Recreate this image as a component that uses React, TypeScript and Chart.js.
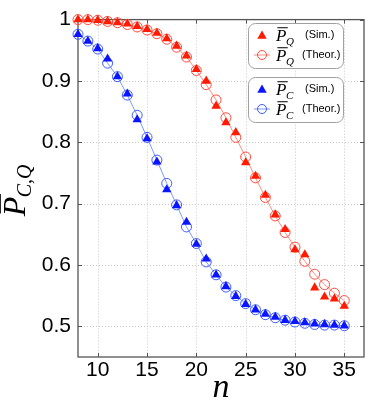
import React, { useEffect, useRef } from 'react';
import { Chart, registerables } from 'chart.js';

Chart.register(...registerables);

const nValues = [8, 9, 10, 11, 12, 13, 14, 15, 16, 17, 18, 19, 20, 21, 22, 23, 24, 25, 26, 27, 28, 29, 30, 31, 32, 33, 34, 35];

const pQSim = [1.0, 1.0, 0.999, 0.997, 0.995, 0.993, 0.989, 0.984, 0.978, 0.969, 0.957, 0.941, 0.919, 0.900, 0.859, 0.832, 0.816, 0.767, 0.745, 0.714, 0.682, 0.658, 0.625, 0.617, 0.563, 0.548, 0.545, 0.533];
const pQTheor = [1.0, 1.0, 0.999, 0.997, 0.995, 0.992, 0.988, 0.983, 0.977, 0.968, 0.955, 0.939, 0.917, 0.894, 0.869, 0.840, 0.808, 0.776, 0.742, 0.710, 0.680, 0.653, 0.629, 0.606, 0.585, 0.568, 0.554, 0.542];
const pCSim = [0.976, 0.965, 0.953, 0.936, 0.907, 0.879, 0.837, 0.806, 0.768, 0.723, 0.697, 0.670, 0.634, 0.610, 0.584, 0.565, 0.549, 0.536, 0.527, 0.520, 0.515, 0.510, 0.508, 0.506, 0.504, 0.503, 0.502, 0.501];
const pCTheor = [0.976, 0.965, 0.952, 0.929, 0.907, 0.877, 0.844, 0.808, 0.771, 0.733, 0.698, 0.662, 0.635, 0.605, 0.584, 0.564, 0.550, 0.537, 0.527, 0.519, 0.514, 0.510, 0.507, 0.505, 0.503, 0.502, 0.502, 0.501];

const xTicks = [10, 15, 20, 25, 30, 35];
const yTicks = [0.5, 0.6, 0.7, 0.8, 0.9, 1.0];

const RED_SIM = '#ff1a00';
const RED_THEOR = '#ff4a3c';
const RED_LINE = '#ff8c80';
const BLUE_SIM = '#0a14ff';
const BLUE_THEOR = '#3d5cff';
const BLUE_LINE = '#7d98ff';

const SANS = '"Liberation Sans", Arial, Helvetica, sans-serif';
const SERIF = '"Liberation Serif", "Times New Roman", serif';

function toPts(ys: number[]) {
  return nValues.map((n, i) => ({ x: n, y: ys[i] }));
}

function drawPBar(ctx: CanvasRenderingContext2D, x: number, y: number, size: number, sub: string, subSize: number, subDrop: number) {
  ctx.font = `italic ${size}px ${SERIF}`;
  ctx.textAlign = 'left';
  ctx.textBaseline = 'alphabetic';
  ctx.fillText('P', x, y);
  const w = ctx.measureText('P').width;
  const barY = y - size * 0.78;
  ctx.beginPath();
  ctx.lineWidth = Math.max(1, size / 20);
  ctx.moveTo(x + size * 0.08, barY);
  ctx.lineTo(x + w + size * 0.08, barY);
  ctx.stroke();
  ctx.font = `italic ${subSize}px ${SERIF}`;
  ctx.fillText(sub, x + w - size * 0.02, y + subDrop);
  return w + ctx.measureText(sub).width;
}

function triangle(ctx: CanvasRenderingContext2D, cx: number, cy: number, r: number, color: string) {
  ctx.beginPath();
  for (let k = 0; k < 3; k++) {
    const a = (k * 2 * Math.PI) / 3;
    const px = cx + Math.sin(a) * r;
    const py = cy - Math.cos(a) * r;
    if (k === 0) ctx.moveTo(px, py); else ctx.lineTo(px, py);
  }
  ctx.closePath();
  ctx.fillStyle = color;
  ctx.fill();
}

const decor = {
  id: 'decor',
  beforeDatasetsDraw(chart: any) {
    const { ctx, chartArea: a, scales } = chart;
    const xs = scales.x;
    const ys = scales.y;
    ctx.save();
    ctx.strokeStyle = '#c8c8c8';
    ctx.lineWidth = 1;
    ctx.setLineDash([1, 2]);
    xTicks.forEach((v) => {
      const px = Math.round(xs.getPixelForValue(v)) + 0.5;
      ctx.beginPath();
      ctx.moveTo(px, a.top);
      ctx.lineTo(px, a.bottom);
      ctx.stroke();
    });
    yTicks.forEach((v) => {
      if (v >= 1) return;
      const py = Math.round(ys.getPixelForValue(v)) + 0.5;
      ctx.beginPath();
      ctx.moveTo(a.left, py);
      ctx.lineTo(a.right, py);
      ctx.stroke();
    });
    ctx.setLineDash([]);
    // tick marks (inward)
    ctx.strokeStyle = '#555';
    ctx.lineWidth = 1;
    xTicks.forEach((v) => {
      const px = Math.round(xs.getPixelForValue(v)) + 0.5;
      ctx.beginPath();
      ctx.moveTo(px, a.bottom);
      ctx.lineTo(px, a.bottom - 4);
      ctx.moveTo(px, a.top);
      ctx.lineTo(px, a.top + 4);
      ctx.stroke();
    });
    yTicks.forEach((v) => {
      const py = Math.round(ys.getPixelForValue(v)) + 0.5;
      ctx.beginPath();
      ctx.moveTo(a.left, py);
      ctx.lineTo(a.left + 4, py);
      ctx.moveTo(a.right, py);
      ctx.lineTo(a.right - 4, py);
      ctx.stroke();
    });
    // frame
    ctx.strokeStyle = '#555';
    ctx.lineWidth = 1.3;
    ctx.strokeRect(a.left, a.top, a.right - a.left, a.bottom - a.top);
    ctx.restore();
  },
  afterDraw(chart: any) {
    const { ctx, chartArea: a } = chart;
    ctx.save();
    ctx.fillStyle = '#000';
    ctx.strokeStyle = '#000';

    // x title
    ctx.font = `italic 34px ${SERIF}`;
    ctx.textAlign = 'center';
    ctx.textBaseline = 'alphabetic';
    ctx.fillText('n', (a.left + a.right) / 2, 397);

    // y title (rotated)
    ctx.save();
    ctx.font = `italic 32px ${SERIF}`;
    const pw = ctx.measureText('P').width;
    ctx.font = `italic 20px ${SERIF}`;
    const sw = ctx.measureText('C,Q').width;
    const total = pw + sw;
    ctx.translate(25, 190 + total / 2);
    ctx.rotate(-Math.PI / 2);
    drawPBar(ctx, 0, 0, 32, 'C,Q', 20, 6);
    ctx.restore();

    // legends
    const boxes = [
      { top: 23, sim: RED_SIM, theor: RED_THEOR, line: RED_LINE, sub: 'Q' },
      { top: 77, sim: BLUE_SIM, theor: BLUE_THEOR, line: BLUE_LINE, sub: 'C' },
    ];
    boxes.forEach((b) => {
      ctx.beginPath();
      ctx.lineWidth = 1;
      ctx.strokeStyle = '#a0a0a0';
      ctx.fillStyle = '#ffffff';
      (ctx as any).roundRect(248.5, b.top + 0.5, 95, 45, 7);
      ctx.fill();
      ctx.stroke();

      const r1 = b.top + 12;
      const r2 = b.top + 32;
      triangle(ctx, 262, r1 + 1, 5.4, b.sim);
      ctx.beginPath();
      ctx.strokeStyle = b.line;
      ctx.lineWidth = 1;
      ctx.moveTo(254, r2);
      ctx.lineTo(270, r2);
      ctx.stroke();
      ctx.beginPath();
      ctx.strokeStyle = b.theor;
      ctx.arc(262, r2, 4.5, 0, Math.PI * 2);
      ctx.stroke();

      ctx.fillStyle = '#000';
      ctx.strokeStyle = '#000';
      drawPBar(ctx, 276, r1 + 6, 17, b.sub, 11, 4);
      drawPBar(ctx, 276, r2 + 6, 17, b.sub, 11, 4);

      ctx.font = `11px ${SANS}`;
      ctx.textAlign = 'left';
      ctx.textBaseline = 'middle';
      ctx.fillText('(Sim.)', 305, r1);
      ctx.fillText('(Theor.)', 302, r2);
    });
    ctx.restore();
  },
};

export default function App() {
  const ref = useRef<HTMLCanvasElement>(null);
  useEffect(() => {
    if (!ref.current) return;
    const chart = new Chart(ref.current, {
      type: 'scatter',
      data: {
        datasets: [
          {
            label: 'PQ Sim.',
            data: toPts(pQSim),
            showLine: false,
            pointStyle: 'triangle',
            pointRadius: 5.4,
            pointBackgroundColor: RED_SIM,
            pointBorderColor: RED_SIM,
            pointBorderWidth: 0,
            clip: false,
          },
          {
            label: 'PC Sim.',
            data: toPts(pCSim),
            showLine: false,
            pointStyle: 'triangle',
            pointRadius: 5.4,
            pointBackgroundColor: BLUE_SIM,
            pointBorderColor: BLUE_SIM,
            pointBorderWidth: 0,
            clip: false,
          },
          {
            label: 'PQ Theor.',
            data: toPts(pQTheor),
            showLine: true,
            borderColor: RED_LINE,
            borderWidth: 1,
            pointStyle: 'circle',
            pointRadius: 5,
            pointBackgroundColor: 'rgba(0,0,0,0)',
            pointBorderColor: RED_THEOR,
            pointBorderWidth: 1,
            clip: false,
          },
          {
            label: 'PC Theor.',
            data: toPts(pCTheor),
            showLine: true,
            borderColor: BLUE_LINE,
            borderWidth: 1,
            pointStyle: 'circle',
            pointRadius: 5,
            pointBackgroundColor: 'rgba(0,0,0,0)',
            pointBorderColor: BLUE_THEOR,
            pointBorderWidth: 1,
            clip: false,
          },
        ],
      } as any,
      plugins: [decor],
      options: {
        responsive: false,
        animation: false,
        devicePixelRatio: 1,
        layout: { padding: { top: 13, right: 10, left: 0, bottom: 0 } },
        plugins: { legend: { display: false }, tooltip: { enabled: false } },
        scales: {
          x: {
            type: 'linear',
            min: 8,
            max: 37,
            afterBuildTicks: (s: any) => { s.ticks = xTicks.map((v) => ({ value: v })); },
            afterFit: (s: any) => { s.height = 44; },
            grid: { display: false, drawTicks: false },
            border: { display: false },
            ticks: { color: '#000', padding: 1, font: { family: SANS, size: 21 }, maxRotation: 0 },
          },
          y: {
            type: 'linear',
            min: 0.45,
            max: 1.0,
            afterBuildTicks: (s: any) => { s.ticks = yTicks.map((v) => ({ value: v })); },
            afterFit: (s: any) => { s.width = 78; },
            grid: { display: false, drawTicks: false },
            border: { display: false },
            ticks: {
              color: '#000',
              padding: 7,
              font: { family: SANS, size: 21 },
              callback: (v: any) => (Number(v) >= 1 ? '1' : Number(v).toFixed(1)),
            },
          },
        },
      } as any,
    });
    return () => chart.destroy();
  }, []);
  return (
    <div style={{ position: 'absolute', left: 0, top: 0, width: 374, height: 401 }}>
      <canvas ref={ref} width={374} height={401} style={{ width: 374, height: 401 }} />
    </div>
  );
}
